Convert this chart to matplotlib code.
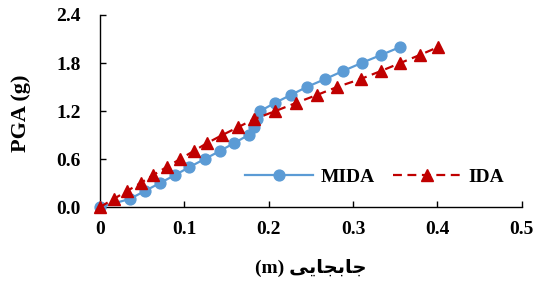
import numpy as np
import matplotlib
matplotlib.use('Agg')
import matplotlib.pyplot as plt

# data
mida_pga = [0.0, 0.1, 0.2, 0.3, 0.4, 0.5, 0.6, 0.7, 0.8, 0.9, 1.0,
            1.1, 1.2, 1.3, 1.4, 1.5, 1.6, 1.7, 1.8, 1.9, 2.0]
mida_disp = [0.0, 0.035, 0.053, 0.071, 0.089, 0.106, 0.124, 0.142, 0.159, 0.176, 0.183,
             0.186, 0.190, 0.207, 0.226, 0.245, 0.267, 0.288, 0.310, 0.333, 0.356]
ida_pga = [0.0, 0.1, 0.2, 0.3, 0.4, 0.5, 0.6, 0.7, 0.8, 0.9, 1.0,
           1.1, 1.2, 1.3, 1.4, 1.5, 1.6, 1.7, 1.8, 1.9, 2.0]
ida_disp = [0.0, 0.016, 0.032, 0.048, 0.063, 0.079, 0.095, 0.111, 0.127, 0.145, 0.164,
            0.183, 0.208, 0.232, 0.257, 0.281, 0.309, 0.333, 0.356, 0.379, 0.401]
xticks = [0, 0.1, 0.2, 0.3, 0.4, 0.5]
xticklabels = ['0', '0.1', '0.2', '0.3', '0.4', '0.5']
yticks = [0.0, 0.6, 1.2, 1.8, 2.4]
yticklabels = ['0.0', '0.6', '1.2', '1.8', '2.4']

# Persian x label, pre-shaped (presentation forms, visual order)
xlabel = '(m) ' + '\ufbfd\ufbfe\ufe8e\ufea0\ufe91\ufe8e\ufe9f'

plt.rcParams['font.family'] = ['Liberation Serif', 'DejaVu Sans']
plt.rcParams['font.weight'] = 'bold'

fig = plt.figure(figsize=(5.36, 2.88), dpi=100)
ax = fig.add_axes([0.1866, 0.281, 0.787, 0.667])

ax.plot(mida_disp, mida_pga, color='#5B9BD5', lw=1.6, marker='o', ms=7.8,
        label='MIDA', clip_on=False, zorder=3)
ax.plot(ida_disp, ida_pga, color='#C00000', lw=1.6, ls=(0, (4, 2.5)), marker='^', ms=8,
        label='IDA', clip_on=False, zorder=4)

ax.set_xlim(0, 0.5)
ax.set_ylim(0, 2.4)
ax.set_xticks(xticks)
ax.set_xticklabels(xticklabels, fontsize=14, fontweight='bold')
ax.set_yticks(yticks)
ax.set_yticklabels(yticklabels, fontsize=14, fontweight='bold')
ax.tick_params(direction='in', length=4, width=1, pad=10)
ax.tick_params(axis='y', pad=14)
ax.spines['top'].set_visible(False)
ax.spines['right'].set_visible(False)
ax.spines['left'].set_linewidth(1)
ax.spines['bottom'].set_linewidth(1)

ax.set_ylabel('PGA (g)', fontsize=16, fontweight='bold')
ax.yaxis.set_label_coords(-0.163, 0.49)
ax.set_xlabel(xlabel, fontsize=14, fontweight='bold', labelpad=15)

leg = ax.legend(loc='lower right', bbox_to_anchor=(1.0, 0.02), ncol=2, frameon=False,
                prop={'size': 14, 'weight': 'bold'}, handlelength=3.5, columnspacing=0.9,
                handletextpad=0.4)

fig.savefig('out.png', dpi=100)
